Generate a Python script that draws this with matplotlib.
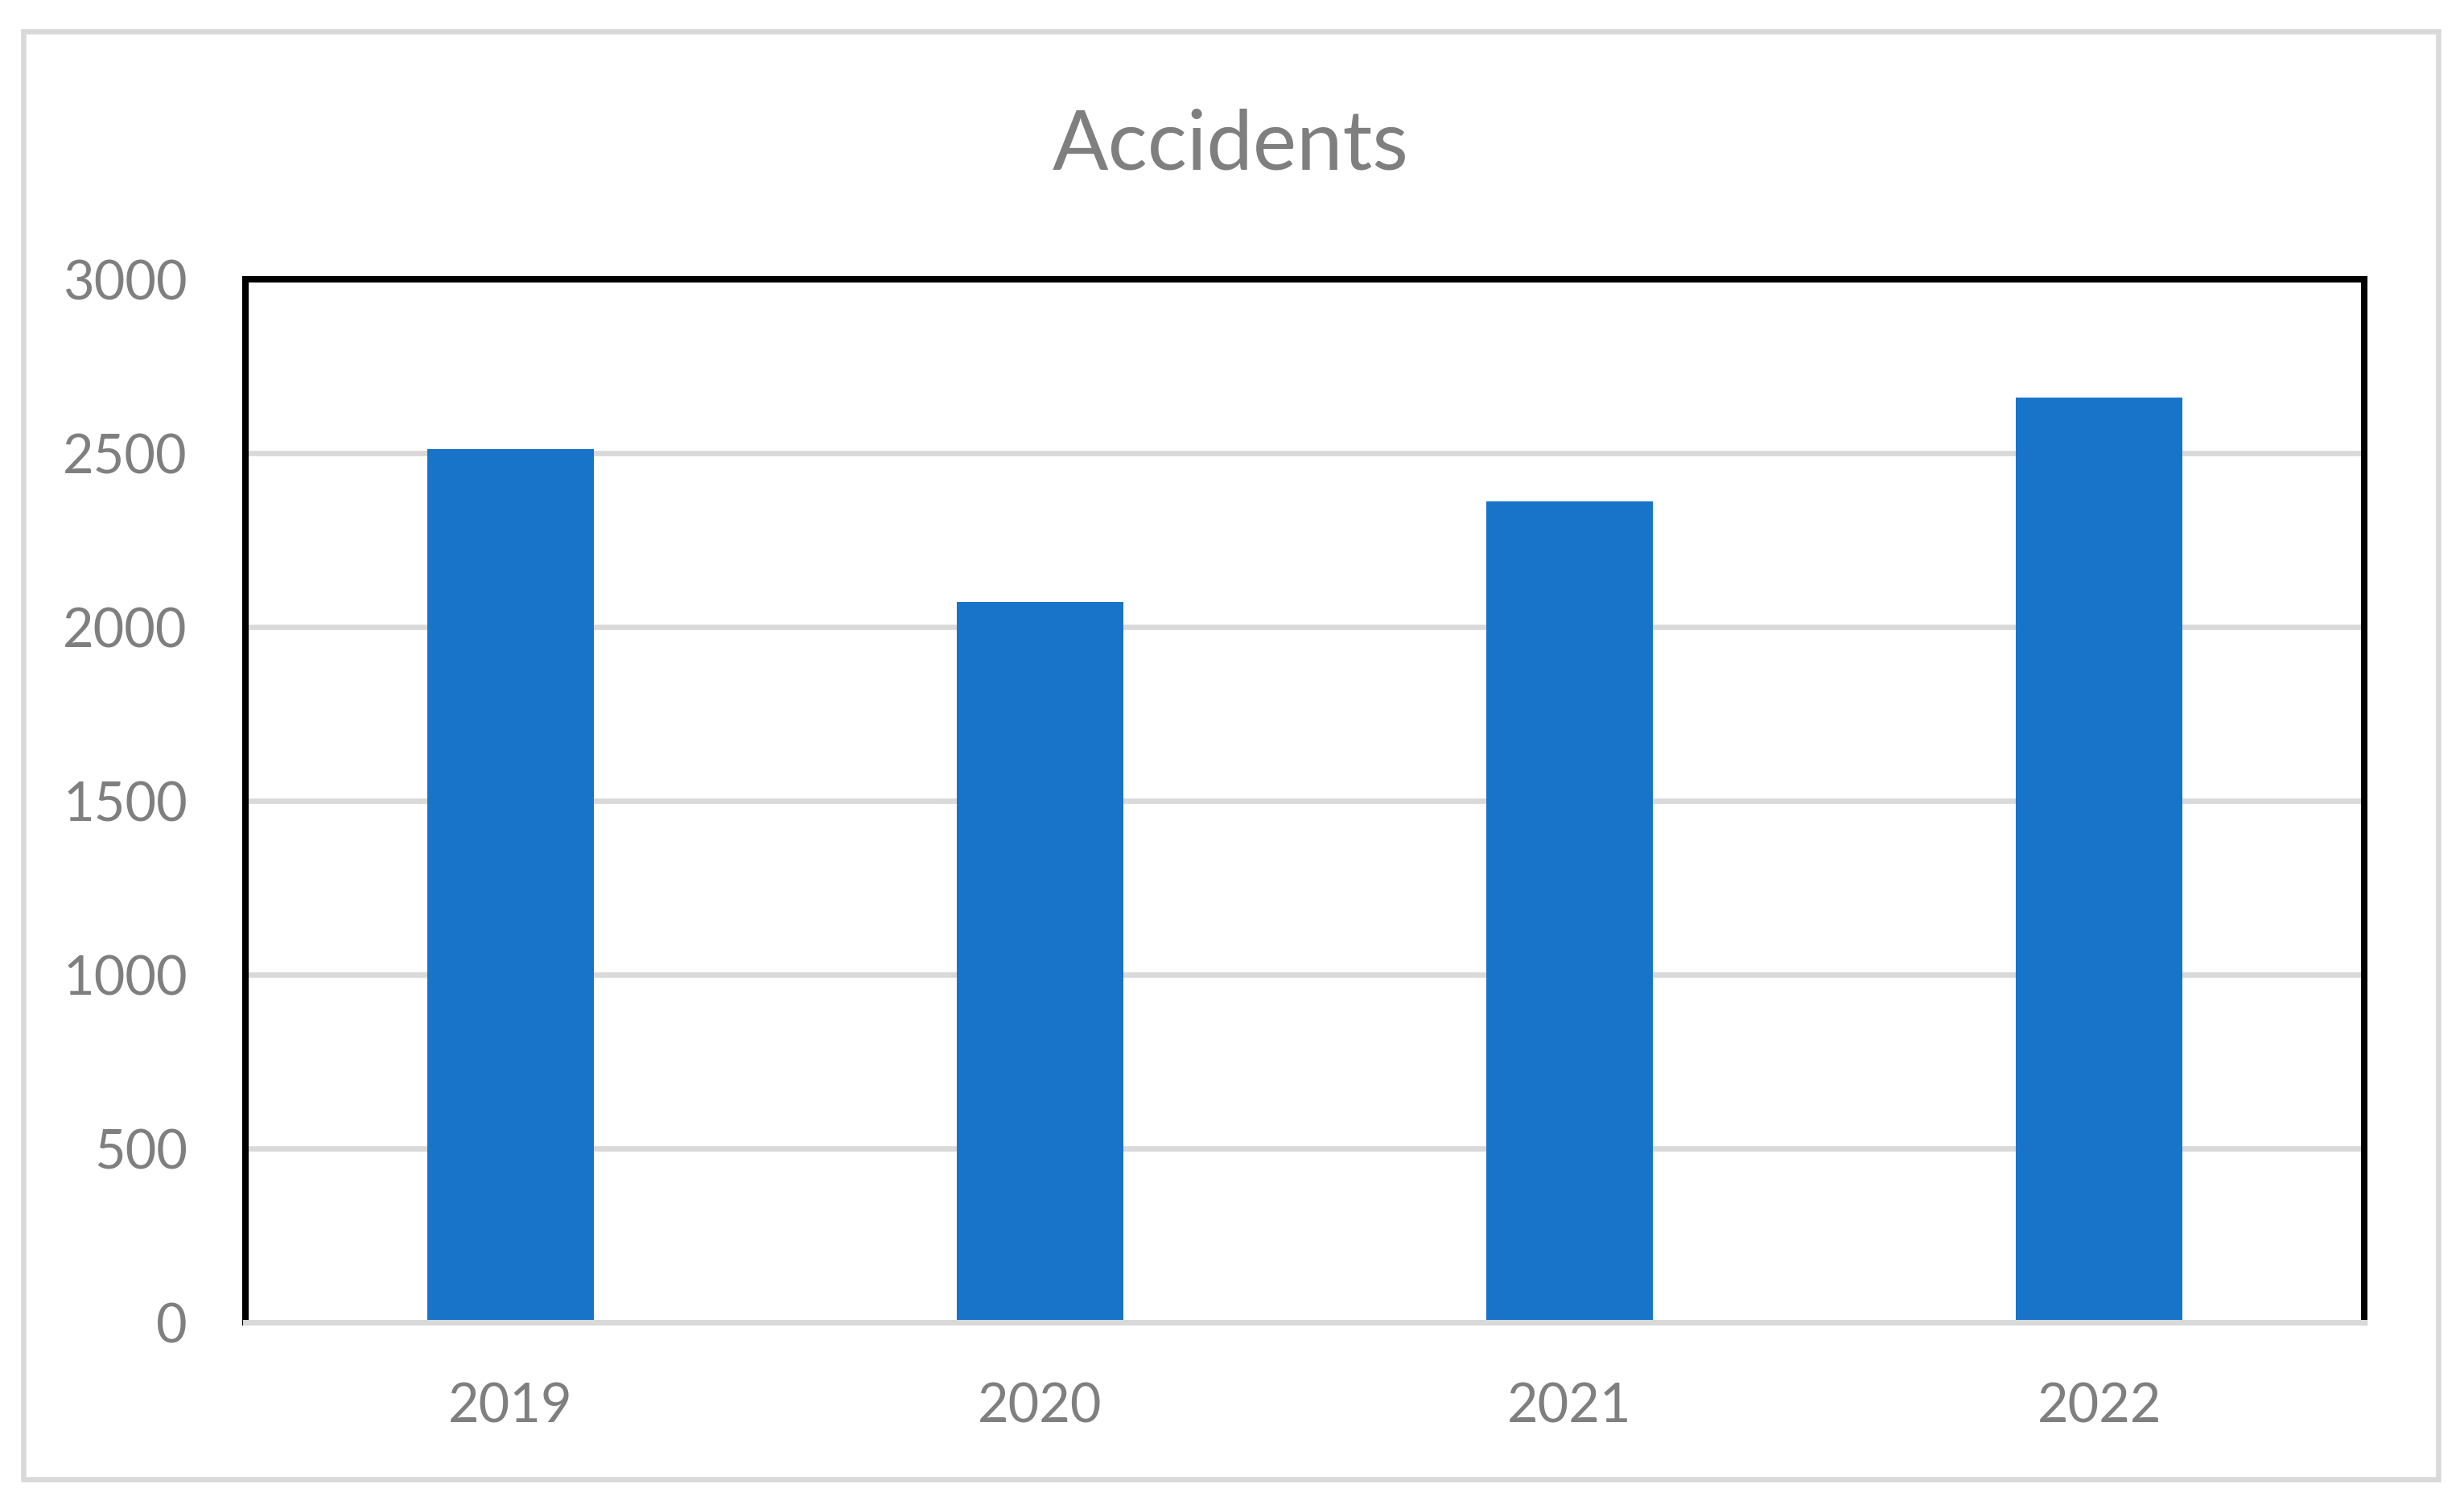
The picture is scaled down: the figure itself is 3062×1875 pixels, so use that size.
import matplotlib
matplotlib.use("Agg")
import matplotlib.pyplot as plt
from matplotlib.patches import Rectangle

years = ["2019", "2020", "2021", "2022"]
accidents = [2513, 2074, 2362, 2661]
y_ticks = [0, 500, 1000, 1500, 2000, 2500, 3000]

plt.rcParams['font.family'] = ['Lato', 'DejaVu Sans']
grey_text = '#7F7F7F'
grid_grey = '#D9D9D9'

fig = plt.figure(figsize=(30.62, 18.75), dpi=100)
ax = fig.add_axes([0.09961, 0.12347, 0.85990, 0.69120])

x = range(len(years))
ax.bar(x, accidents, width=0.3145, color='#1874C8', zorder=2)

ax.set_xlim(-0.5, len(years) - 0.5)
ax.set_ylim(0, 3000)
ax.set_yticks(y_ticks)
ax.set_xticks(list(x))
ax.set_xticklabels(years)

# gridlines like excel
ax.set_axisbelow(True)
ax.yaxis.grid(True, color=grid_grey, linewidth=4.8)
ax.xaxis.grid(False)

for side in ['left', 'right', 'top']:
    ax.spines[side].set_color('black')
    ax.spines[side].set_linewidth(5.8)
ax.spines['bottom'].set_color(grid_grey)
ax.spines['bottom'].set_linewidth(5.0)
ax.spines['bottom'].set_zorder(3)

ax.tick_params(axis='both', length=0, labelsize=48, labelcolor=grey_text)
ax.tick_params(axis='y', pad=52)
ax.tick_params(axis='x', pad=53)

# title centred on the chart area, not the plot
fig.text(0.4995, 0.8875, 'Accidents', ha='center', va='baseline',
         fontsize=74, color=grey_text)

# outer chart border
fig.patches.append(Rectangle((0.00963, 0.01947), 0.97992, 0.95947,
                             transform=fig.transFigure, fill=False,
                             edgecolor=grid_grey, linewidth=4.7))

fig.savefig('out.png', dpi=100, facecolor='white')
